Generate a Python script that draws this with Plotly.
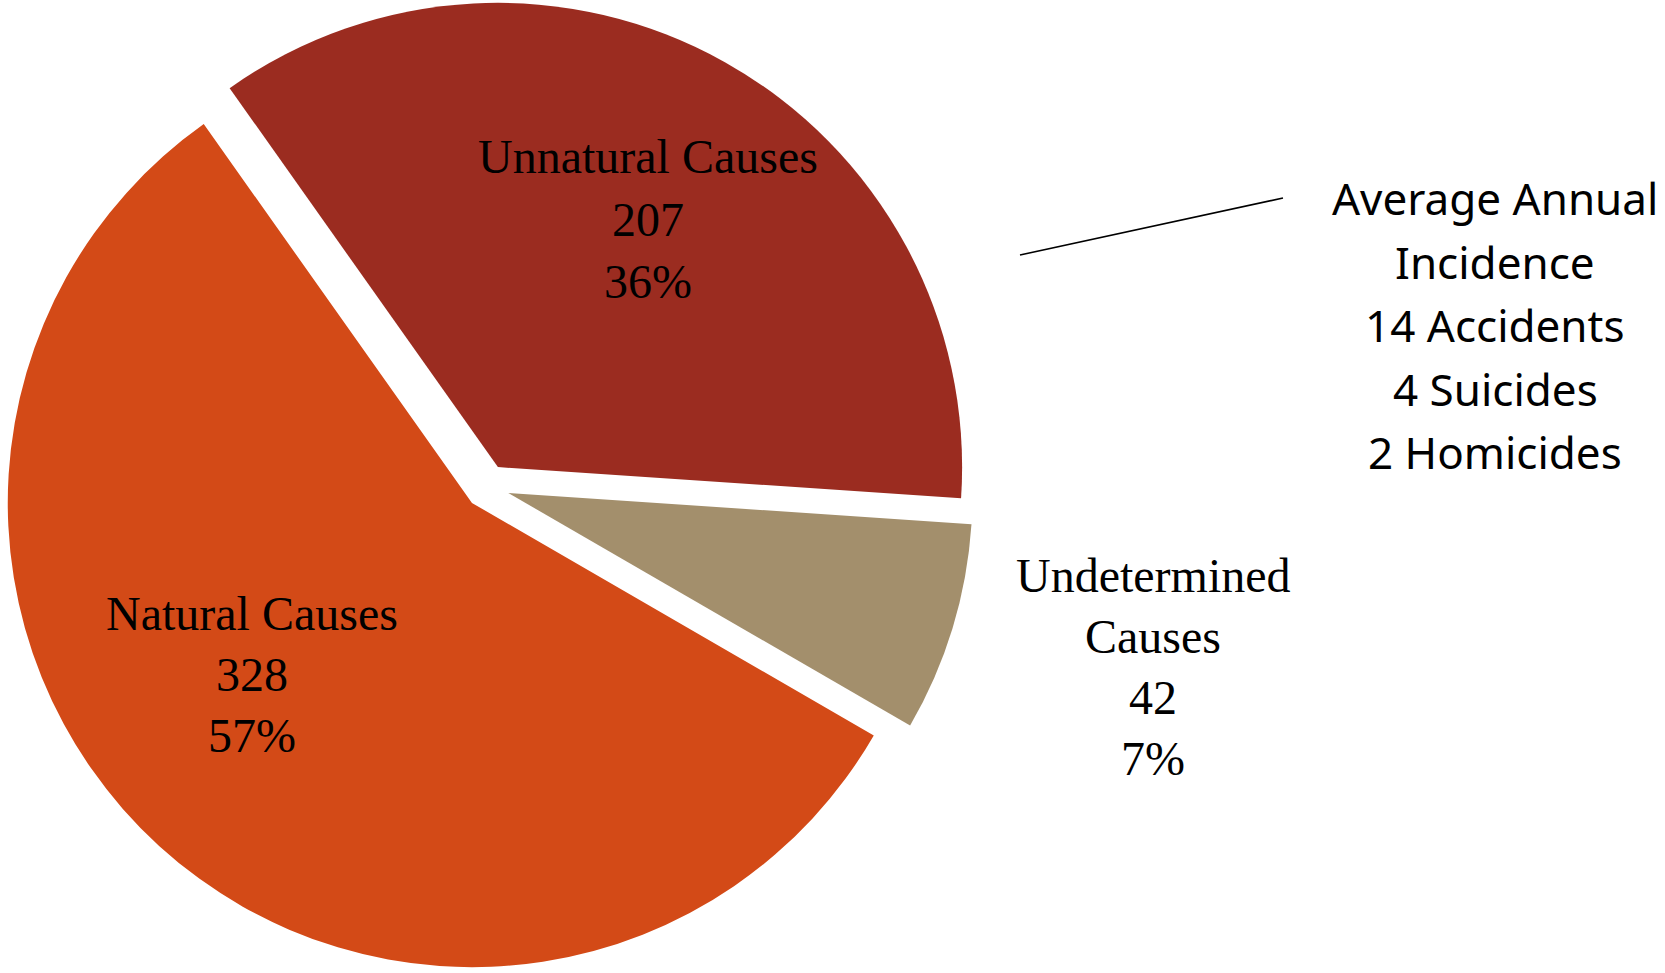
import plotly.graph_objects as go

# Data
categories = ["Unnatural Causes", "Undetermined Causes", "Natural Causes"]
counts = [207, 42, 328]
colors = ["#9B2C20", "#A38F6C", "#D34A17"]
note_lines = ["Average Annual", "Incidence", "14 Accidents", "4 Suicides", "2 Homicides"]

W, H = 1665, 973
total = sum(counts)
pcts = [round(100 * c / total) for c in counts]

fig = go.Figure(go.Pie(
    labels=categories,
    values=counts,
    sort=False,
    direction="clockwise",
    rotation=-35.3,
    pull=[0.048, 0.048, 0.048],
    marker=dict(colors=colors, line=dict(width=0)),
    textinfo="none",
    hoverinfo="skip",
    showlegend=False,
    domain=dict(x=[0, 974 / W], y=[0, 1]),
))

serif = dict(family="Liberation Serif, Times New Roman, serif", size=48, color="#000000")
sans = dict(family="Noto Sans, DejaVu Sans, sans-serif", size=44, color="#000000")

def add_lines(lines, cx, ys, font):
    for txt, y in zip(lines, ys):
        fig.add_annotation(text=txt, x=cx / W, y=1 - y / H, xref="paper", yref="paper",
                           showarrow=False, xanchor="center", yanchor="middle", font=font)

# Unnatural
add_lines([categories[0], str(counts[0]), f"{pcts[0]}%"], 648, [157, 219, 281], serif)
# Natural
add_lines([categories[2], str(counts[2]), f"{pcts[2]}%"], 252, [613, 674, 735], serif)
# Undetermined (outside, name on two lines)
und_name = categories[1].split(" ")
add_lines([und_name[0], und_name[1], str(counts[1]), f"{pcts[1]}%"], 1153, [575, 636, 697, 758], serif)
# Right note
add_lines(note_lines, 1495, [198, 262, 325, 389, 452], sans)

# Leader line
fig.add_shape(type="line", xref="paper", yref="paper",
              x0=1020 / W, y0=1 - 255 / H, x1=1283 / W, y1=1 - 198 / H,
              line=dict(color="#000000", width=1.6))

fig.update_layout(
    width=W, height=H,
    margin=dict(l=0, r=0, t=0, b=0),
    paper_bgcolor="white", plot_bgcolor="white",
)

fig.write_html("out.html", config={"displayModeBar": False},
               post_script="document.body.style.margin='0px';")
